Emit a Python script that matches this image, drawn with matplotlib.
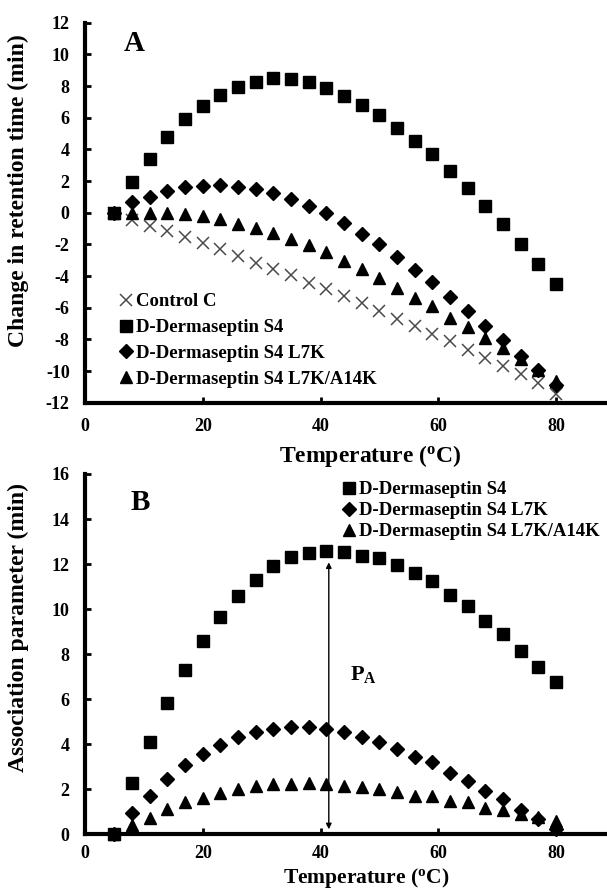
import matplotlib
matplotlib.use("Agg")
import matplotlib.pyplot as plt

plt.rcParams['font.family'] = ['Liberation Serif', 'DejaVu Serif']
plt.rcParams['font.weight'] = 'bold'
plt.rcParams['axes.unicode_minus'] = False
plt.rcParams['mathtext.fontset'] = 'custom'
plt.rcParams['mathtext.rm'] = 'Liberation Serif:bold'
plt.rcParams['mathtext.it'] = 'Liberation Serif:bold'
plt.rcParams['mathtext.bf'] = 'Liberation Serif:bold'

temps = list(range(5, 81, 3))

# panel A: change in retention time (min)
control_c = [0, -0.46, -0.84, -1.16, -1.54, -1.94, -2.3, -2.72, -3.16, -3.54,
             -3.96, -4.42, -4.8, -5.27, -5.73, -6.21, -6.7, -7.16, -7.69, -8.11,
             -8.64, -9.16, -9.69, -10.21, -10.74, -11.48]
s4_a = [0, 1.94, 3.37, 4.78, 5.89, 6.74, 7.43, 7.94, 8.27, 8.48,
        8.44, 8.25, 7.89, 7.39, 6.8, 6.17, 5.37, 4.53, 3.68, 2.61,
        1.54, 0.42, -0.74, -2.0, -3.22, -4.48]
l7k_a = [0, 0.67, 0.99, 1.35, 1.62, 1.68, 1.73, 1.64, 1.47, 1.22,
         0.88, 0.42, -0.04, -0.63, -1.33, -2.0, -2.78, -3.62, -4.36, -5.33,
         -6.21, -7.16, -8.05, -9.06, -9.94, -10.9]
a14k_a = [0, 0.0, -0.02, -0.02, -0.06, -0.2, -0.42, -0.7, -0.95, -1.26,
          -1.64, -2.04, -2.48, -3.05, -3.58, -4.1, -4.74, -5.37, -5.9, -6.63,
          -7.2, -7.9, -8.53, -9.27, -9.96, -10.6]

# panel B: association parameter (min)
s4_b = [0, 2.29, 4.09, 5.82, 7.3, 8.59, 9.64, 10.6, 11.3, 11.92,
        12.31, 12.49, 12.56, 12.53, 12.38, 12.27, 11.94, 11.6, 11.23, 10.64,
        10.12, 9.49, 8.9, 8.12, 7.42, 6.76]
l7k_b = [0, 0.96, 1.7, 2.46, 3.08, 3.55, 3.97, 4.34, 4.56, 4.68,
         4.75, 4.75, 4.66, 4.56, 4.34, 4.09, 3.79, 3.45, 3.2, 2.71,
         2.38, 1.92, 1.55, 1.08, 0.67, 0.22]
a14k_b = [0, 0.41, 0.74, 1.12, 1.45, 1.63, 1.85, 2.01, 2.16, 2.22,
          2.24, 2.27, 2.22, 2.16, 2.09, 2.01, 1.89, 1.72, 1.7, 1.48,
          1.42, 1.18, 1.08, 0.89, 0.78, 0.6]

names = ['Control C', 'D-Dermaseptin S4', 'D-Dermaseptin S4 L7K',
         'D-Dermaseptin S4 L7K/A14K']

fig = plt.figure(figsize=(6.07, 8.92), dpi=100)
W, H = 607.0, 892.0
axA = fig.add_axes([85 / W, (H - 402.7) / H, 530 / W, 380 / H])
axB = fig.add_axes([85 / W, (H - 834.3) / H, 530 / W, 360.3 / H])


def style(ax):
    ax.spines['top'].set_visible(False)
    ax.spines['right'].set_visible(False)
    ax.spines['left'].set_linewidth(3)
    ax.spines['bottom'].set_linewidth(3)
    ax.tick_params(direction='in', length=4, width=2, labelsize=13, pad=11)
    ax.set_xlim(0, 90)
    ax.set_xticks([0, 20, 40, 60, 80])
    for lab in ax.get_xticklabels() + ax.get_yticklabels():
        lab.set_fontweight('bold')


# panel A
hx, = axA.plot(temps, control_c, 'x', color='#4a4a4a', ms=9, mew=1.1, clip_on=False)
hs, = axA.plot(temps, s4_a, 's', color='black', ms=9, clip_on=False)
hd, = axA.plot(temps, l7k_a, 'D', color='black', ms=7, clip_on=False)
ht, = axA.plot(temps, a14k_a, '^', color='black', ms=9, clip_on=False)
axA.set_ylim(-12, 12)
axA.set_yticks(range(-12, 13, 2))
style(axA)
axA.set_xlabel('Temperature ($^{o}$C)', fontsize=17, fontweight='bold')
axA.xaxis.set_label_coords(0.538, -0.106)
axA.set_ylabel('Change in retention time (min)', fontsize=17, fontweight='bold')
axA.yaxis.set_label_coords(-0.106, 0.557)
axA.text(8.3, 10.7, 'A', fontsize=21, fontweight='bold', ha='center', va='center')
axA.legend([hx, hs, hd, ht], names, loc='upper left',
           bbox_to_anchor=(0.053, 0.3075), frameon=False, fontsize=13.5,
           handlelength=0.6, handletextpad=0.2, labelspacing=0.46,
           borderaxespad=0)

# panel B
hs2, = axB.plot(temps, s4_b, 's', color='black', ms=9, clip_on=False)
hd2, = axB.plot(temps, l7k_b, 'D', color='black', ms=7, clip_on=False)
ht2, = axB.plot(temps, a14k_b, '^', color='black', ms=9, clip_on=False)
axB.set_ylim(0, 16)
axB.set_yticks(range(0, 17, 2))
style(axB)
axB.tick_params(axis='x', pad=8)
axB.set_xlabel('Temperature ($^{o}$C)', fontsize=15.5, fontweight='bold')
axB.xaxis.set_label_coords(0.53, -0.089)
axB.set_ylabel('Association parameter (min)', fontsize=17, fontweight='bold')
axB.yaxis.set_label_coords(-0.106, 0.575)
axB.text(9.3, 14.75, 'B', fontsize=21, fontweight='bold', ha='center', va='center')
axB.legend([hs2, hd2, ht2], names[1:], loc='upper left',
           bbox_to_anchor=(0.4736, 1.001), frameon=False, fontsize=13.5,
           handlelength=0.6, handletextpad=0.2, labelspacing=0.21,
           borderaxespad=0)

# P_A arrow
axB.annotate('', xy=(41.4, 0.1), xytext=(41.4, 12.2),
             arrowprops=dict(arrowstyle='<|-|>', color='black', lw=1,
                             mutation_scale=8))
axB.text(45, 7.1, r'$\mathrm{P_A}$', fontsize=16, ha='left', va='center')

fig.savefig('out.png', dpi=100)
